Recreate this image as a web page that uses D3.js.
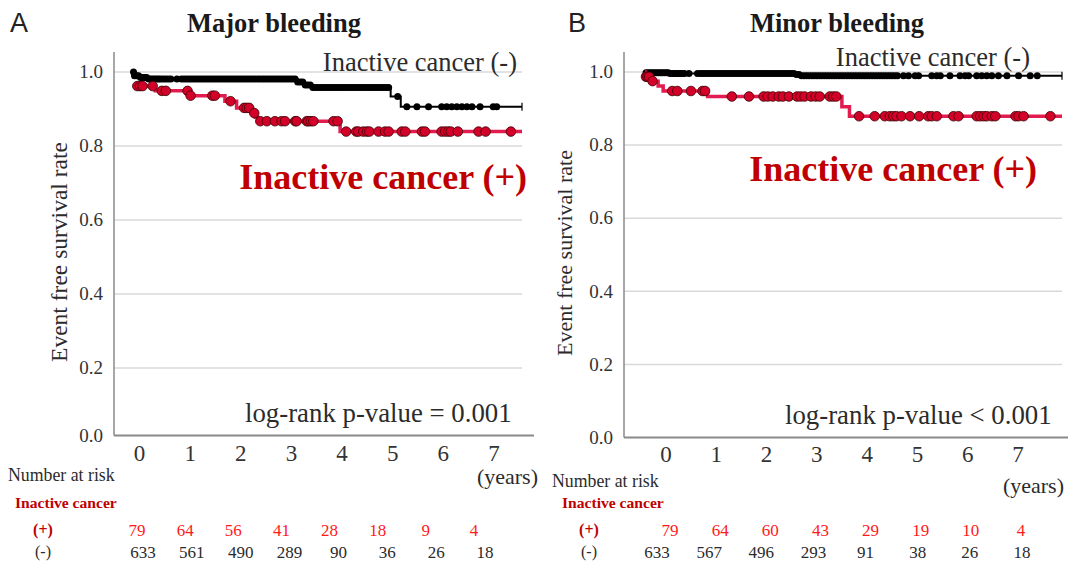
<!DOCTYPE html>
<html><head><meta charset="utf-8">
<script src="https://cdn.jsdelivr.net/npm/d3@7"></script>
<style>
body{margin:0;background:#fff}
svg{display:block}
text{font-family:"Liberation Serif","Times New Roman",serif}
</style>
</head><body>
<svg id="c" width="1068" height="567"></svg>
<script>
// ---------------- data ----------------
const yTicks = [0, 0.2, 0.4, 0.6, 0.8, 1.0];
const xTicks = [0, 1, 2, 3, 4, 5, 6, 7];

// Panel A: Major bleeding
const aPosT = [0, 0.44, 1.1, 1.82, 2.05, 2.35, 2.42, 2.47, 4.1];
const aPosS = [0.962, 0.949, 0.936, 0.921, 0.903, 0.889, 0.878, 0.867, 0.839];
const aPosCensor = [0.085,0.14,0.19,0.39,0.57,0.65,1.08,1.14,1.57,1.62,1.93,2.2,2.25,2.3,2.4,2.52,2.65,2.81,2.94,3.01,3.21,3.24,3.44,3.47,3.52,3.57,3.97,4.05,4.22,4.42,4.46,4.56,4.63,4.68,4.86,4.99,5.06,5.32,5.39,5.72,5.78,6.11,6.18,6.24,6.29,6.43,6.84,6.98,7.48];
const aNegT = [0, 0.02, 0.12, 0.3, 3.25, 3.4, 3.55, 5.1, 5.3];
const aNegS = [1.0, 0.99, 0.985, 0.981, 0.973, 0.965, 0.958, 0.934, 0.906];
const aNegCensor = [0.01,0.03,0.07,0.11,0.15,0.19,0.23,0.27,0.31,0.35,0.39,0.43,0.47,0.51,0.55,0.6,0.65,0.7,0.75,0.87,0.96,1.01,1.06,1.11,1.16,1.21,1.26,1.31,1.36,1.41,1.46,1.51,1.56,1.61,1.66,1.71,1.76,1.81,1.86,1.91,1.96,2.01,2.06,2.11,2.16,2.21,2.26,2.31,2.36,2.41,2.46,2.51,2.56,2.61,2.66,2.71,2.76,2.81,2.86,2.91,2.96,3.01,3.06,3.11,3.16,3.21,3.26,3.31,3.36,3.41,3.46,3.51,3.56,3.61,3.66,3.71,3.76,3.81,3.86,3.91,3.96,4.01,4.06,4.11,4.16,4.21,4.26,4.31,4.36,4.41,4.46,4.51,4.56,4.61,4.66,4.71,4.76,4.81,4.86,4.91,4.96,5.01,5.06,5.24,5.42,5.62,5.85,6.11,6.21,6.31,6.41,6.51,6.61,6.71,6.87,7.13,7.2];
const aEnd = 7.7;
const riskAPos = [79, 64, 56, 41, 28, 18, 9, 4];
const riskANeg = [633, 561, 490, 289, 90, 36, 26, 18];

// Panel B: Minor bleeding
const bPosT = [0, 0.01, 0.12, 0.26, 0.36, 1.24, 3.9, 4.05];
const bPosS = [1.0, 0.987, 0.975, 0.962, 0.948, 0.933, 0.905, 0.879];
const bPosCensor = [0.02,0.05,0.08,0.15,0.54,0.64,0.91,1.14,1.19,1.72,2.06,2.35,2.43,2.53,2.65,2.73,2.85,3.01,3.08,3.16,3.29,3.38,3.46,3.66,3.73,3.79,4.24,4.55,4.75,4.85,4.92,4.98,5.08,5.25,5.43,5.61,5.68,5.78,6.11,6.21,6.57,6.64,6.71,6.77,6.87,6.94,7.34,7.4,7.5,8.03];
const bNegT = [0, 0.02, 0.5, 3.0, 3.1];
const bNegS = [1.0, 0.998, 0.996, 0.993, 0.99];
const bNegCensor = [0.02,0.06,0.1,0.14,0.18,0.22,0.26,0.3,0.34,0.38,0.42,0.46,0.5,0.54,0.58,0.62,0.66,0.7,0.74,0.78,0.87,1.04,1.1,1.15,1.2,1.25,1.3,1.35,1.4,1.45,1.5,1.55,1.6,1.65,1.7,1.75,1.8,1.85,1.9,1.95,2.0,2.05,2.1,2.15,2.2,2.25,2.3,2.35,2.4,2.45,2.5,2.55,2.6,2.65,2.7,2.75,2.8,2.85,2.9,2.95,3.0,3.05,3.1,3.15,3.2,3.25,3.3,3.35,3.4,3.45,3.5,3.55,3.6,3.65,3.7,3.75,3.8,3.85,3.9,3.95,4.0,4.05,4.1,4.15,4.2,4.25,4.3,4.35,4.4,4.45,4.5,4.55,4.6,4.65,4.7,4.75,4.8,4.85,4.9,4.95,5.0,5.12,5.22,5.35,5.42,5.68,5.78,5.85,6.04,6.24,6.34,6.41,6.57,6.67,6.77,6.87,7.0,7.17,7.4,7.63,7.77];
const bEnd = 8.26;
const riskBPos = [79, 64, 60, 43, 29, 19, 10, 4];
const riskBNeg = [633, 567, 496, 293, 91, 38, 26, 18];

// ---------------- drawing ----------------
const svg = d3.select("#c");
const RED_TXT = "#c00000", RED_NUM = "#ff1a1a", RED_LINE = "#e31c4f", RED_FILL = "#d3002a";
const GRAY = "#8a8a8a", GRID = "#d9d9d9", TXT = "#2b2b2b";

function stepSurv(T, S, t) {
  let s = S[0];
  for (let i = 0; i < T.length; i++) if (T[i] <= t) s = S[i];
  return s;
}

function panel(c) {
  const g = svg.append("g");
  const x = d3.scaleLinear().domain([0, c.end]).range([c.x0, c.x1]);
  const xt = d3.scaleLinear().domain([0, 7]).range(c.tickRange);
  const rp = d3.scalePoint().domain(xTicks).range(c.riskPosRange);
  const rn = d3.scalePoint().domain(xTicks).range(c.riskNegRange);
  const y = d3.scaleLinear().domain([0, 0.2, 1]).range(c.yRange);

  // gridlines
  g.selectAll(".grid").data(yTicks.filter(d => d > 0)).join("line")
    .attr("x1", c.axX).attr("x2", c.x1).attr("y1", d => y(d)).attr("y2", d => y(d))
    .attr("stroke", GRID).attr("stroke-width", 1.5);
  // axes lines
  g.append("line").attr("x1", c.axX).attr("x2", c.axX).attr("y1", 52).attr("y2", y(0))
    .attr("stroke", GRAY).attr("stroke-width", 1.5);
  g.append("line").attr("x1", c.axX).attr("x2", c.axRight).attr("y1", y(0)).attr("y2", y(0))
    .attr("stroke", GRAY).attr("stroke-width", 2);
  // y tick labels
  g.selectAll(".yl").data(yTicks).join("text")
    .attr("x", c.axX - 11).attr("y", d => y(d)).attr("dy", "0.33em")
    .attr("text-anchor", "end").attr("font-size", 19).attr("fill", "#333")
    .text(d => d.toFixed(1));
  // x tick labels
  g.selectAll(".xl").data(xTicks).join("text")
    .attr("x", d => xt(d)).attr("y", c.xlBase).attr("text-anchor", "middle")
    .attr("font-size", 23).attr("fill", "#333").text(d => d);

  const line = d3.line().x(d => x(d[0])).y(d => y(d[1])).curve(d3.curveStepAfter);

  // black (-) curve
  const negPts = c.negT.map((t, i) => [t, c.negS[i]]).concat([[c.end, c.negS[c.negS.length - 1]]]);
  g.append("path").attr("d", line(negPts)).attr("fill", "none").attr("stroke", "#000").attr("stroke-width", 2);
  g.append("line").attr("x1", x(c.end)).attr("x2", x(c.end))
    .attr("y1", y(c.negS[c.negS.length - 1]) - 4).attr("y2", y(c.negS[c.negS.length - 1]) + 4)
    .attr("stroke", "#000").attr("stroke-width", 1.2);
  g.selectAll(".nc").data(c.negC).join("circle")
    .attr("cx", d => x(d)).attr("cy", d => y(stepSurv(c.negT, c.negS, d)))
    .attr("r", 3.5).attr("fill", "#000");

  // red (+) curve
  const posPts = c.posT.map((t, i) => [t, c.posS[i]]).concat([[c.end, c.posS[c.posS.length - 1]]]);
  g.append("path").attr("d", line(posPts)).attr("fill", "none").attr("stroke", RED_LINE).attr("stroke-width", 3.5);
  g.selectAll(".pc").data(c.posC).join("circle")
    .attr("cx", d => x(d)).attr("cy", d => y(stepSurv(c.posT, c.posS, d)))
    .attr("r", 4.8).attr("fill", RED_FILL).attr("stroke", "#3a0000").attr("stroke-width", 0.8);

  // titles and labels
  g.append("text").attr("x", c.letterX).attr("y", 32).attr("font-size", 27)
    .style("font-family", "'Liberation Sans', Arial, sans-serif").attr("fill", "#222").text(c.letter);
  g.append("text").attr("x", c.titleX).attr("y", 32).attr("text-anchor", "middle")
    .attr("font-size", 26.5).attr("font-weight", "bold").attr("fill", "#1a1a1a").text(c.title);
  g.append("text").attr("transform", `translate(${c.yTitleX},${c.yTitleY}) rotate(-90)`)
    .attr("text-anchor", "middle").attr("font-size", c.yTitleSize).attr("fill", TXT).text("Event free survival rate");
  g.append("text").attr("x", c.negLblX).attr("y", c.negLblY).attr("text-anchor", "end")
    .attr("font-size", 26.5).attr("fill", TXT).text("Inactive cancer (-)");
  g.append("text").attr("x", c.posLblX).attr("y", c.posLblY).attr("text-anchor", "end")
    .attr("font-size", 36).attr("font-weight", "bold").attr("fill", RED_TXT).text("Inactive cancer (+)");
  g.append("text").attr("x", c.pX).attr("y", c.pY).attr("font-size", 26.8).attr("fill", TXT).text(c.pText);
  g.append("text").attr("x", c.yearsX).attr("y", c.yearsY).attr("text-anchor", "end")
    .attr("font-size", 22).attr("fill", TXT).text("(years)");

  // number at risk
  g.append("text").attr("x", c.narX).attr("y", c.narY).attr("font-size", 17.8).attr("fill", TXT).text("Number at risk");
  g.append("text").attr("x", c.icX).attr("y", 508).attr("font-size", 15.6).attr("font-weight", "bold")
    .attr("fill", RED_TXT).text("Inactive cancer");
  g.append("text").attr("x", c.plusX).attr("y", 535).attr("text-anchor", "middle").attr("font-size", 16)
    .attr("font-weight", "bold").attr("fill", RED_TXT).text("(+)");
  g.append("text").attr("x", c.plusX).attr("y", 557).attr("text-anchor", "middle").attr("font-size", 16)
    .attr("fill", TXT).text("(-)");
  g.selectAll(".rp").data(c.riskPos).join("text")
    .attr("x", (d, i) => rp(xTicks[i])).attr("y", 536).attr("text-anchor", "middle")
    .attr("font-size", 17).attr("fill", RED_NUM).text(d => d);
  g.selectAll(".rn").data(c.riskNeg).join("text")
    .attr("x", (d, i) => rn(xTicks[i])).attr("y", 558).attr("text-anchor", "middle")
    .attr("font-size", 17).attr("fill", TXT).text(d => d);
}

panel({
  letter: "A", letterX: 10, title: "Major bleeding", titleX: 274, yTitleX: 67, yTitleY: 252, yTitleSize: 23.5,
  end: aEnd, x0: 133, x1: 522, axX: 114, axRight: 534, tickRange: [139.5, 494],
  yRange: [435.5, 368, 72], xlBase: 461,
  posT: aPosT, posS: aPosS, posC: aPosCensor, negT: aNegT, negS: aNegS, negC: aNegCensor,
  negLblX: 517, negLblY: 71, posLblX: 527, posLblY: 189,
  pX: 245, pY: 422, pText: "log-rank p-value = 0.001",
  yearsX: 538, yearsY: 484,
  narX: 8, narY: 481, icX: 15, plusX: 43,
  riskPos: riskAPos, riskNeg: riskANeg, riskPosRange: [137, 474], riskNegRange: [143, 485]
});
panel({
  letter: "B", letterX: 568, title: "Minor bleeding", titleX: 837, yTitleX: 572, yTitleY: 253, yTitleSize: 22,
  end: bEnd, x0: 645, x1: 1062, axX: 624, axRight: 1068, tickRange: [666, 1018],
  yRange: [437.5, 364.4, 72], xlBase: 462,
  posT: bPosT, posS: bPosS, posC: bPosCensor, negT: bNegT, negS: bNegS, negC: bNegCensor,
  negLblX: 1030, negLblY: 66, posLblX: 1037, posLblY: 181,
  pX: 785, pY: 424, pText: "log-rank p-value < 0.001",
  yearsX: 1064, yearsY: 493,
  narX: 552, narY: 487, icX: 562, plusX: 589,
  riskPos: riskBPos, riskNeg: riskBNeg, riskPosRange: [670, 1021], riskNegRange: [657, 1022]
});
</script>
</body></html>
